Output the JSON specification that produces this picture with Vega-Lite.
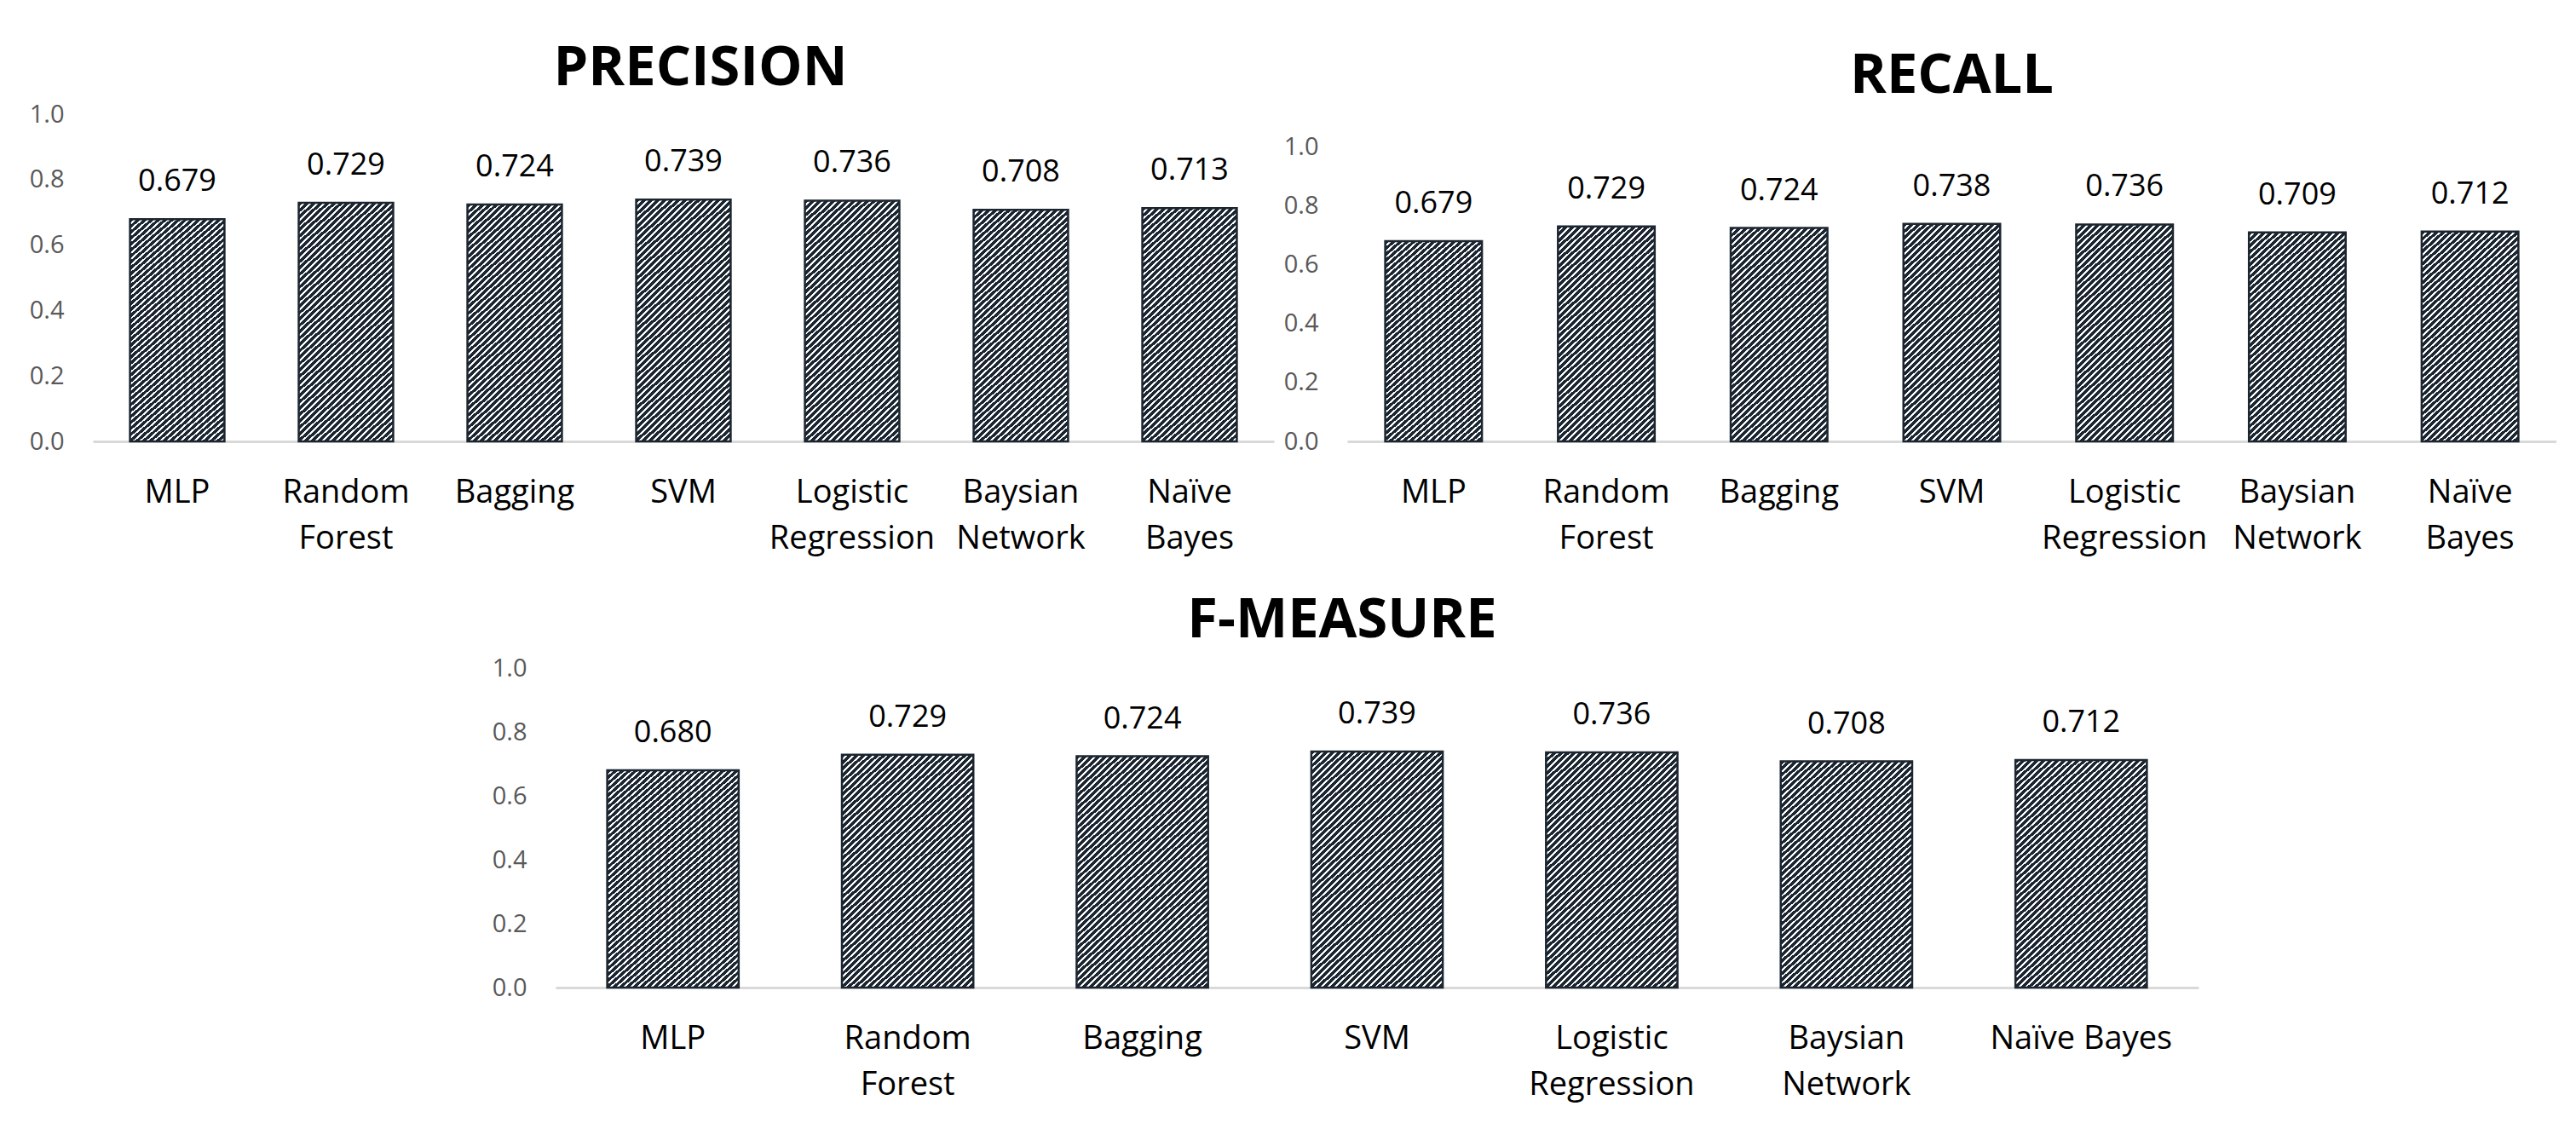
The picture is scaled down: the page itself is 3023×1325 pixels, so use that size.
{
  "$schema": "https://vega.github.io/schema/vega-lite/v6.json",
  "padding": {"left": 34, "top": 48, "right": 0, "bottom": 20},
  "background": "white",
  "datasets": {
    "scores": [
      {"metric": "Precision", "model": "MLP", "value": 0.679},
      {"metric": "Precision", "model": "Random Forest", "value": 0.729},
      {"metric": "Precision", "model": "Bagging", "value": 0.724},
      {"metric": "Precision", "model": "SVM", "value": 0.739},
      {"metric": "Precision", "model": "Logistic Regression", "value": 0.736},
      {"metric": "Precision", "model": "Baysian Network", "value": 0.708},
      {"metric": "Precision", "model": "Naïve Bayes", "value": 0.713},
      {"metric": "Recall", "model": "MLP", "value": 0.679},
      {"metric": "Recall", "model": "Random Forest", "value": 0.729},
      {"metric": "Recall", "model": "Bagging", "value": 0.724},
      {"metric": "Recall", "model": "SVM", "value": 0.738},
      {"metric": "Recall", "model": "Logistic Regression", "value": 0.736},
      {"metric": "Recall", "model": "Baysian Network", "value": 0.709},
      {"metric": "Recall", "model": "Naïve Bayes", "value": 0.712},
      {"metric": "F-Measure", "model": "MLP", "value": 0.680},
      {"metric": "F-Measure", "model": "Random Forest", "value": 0.729},
      {"metric": "F-Measure", "model": "Bagging", "value": 0.724},
      {"metric": "F-Measure", "model": "SVM", "value": 0.739},
      {"metric": "F-Measure", "model": "Logistic Regression", "value": 0.736},
      {"metric": "F-Measure", "model": "Baysian Network", "value": 0.708},
      {"metric": "F-Measure", "model": "Naïve Bayes", "value": 0.712}
    ]
  },
  "config": {
    "font": "Open Sans",
    "view": {"stroke": null},
    "bar": {"stroke": "#1c2630", "strokeWidth": 2.5},
    "axisX": {
      "title": null,
      "domainColor": "#d9d9d9",
      "domainWidth": 3,
      "ticks": false,
      "grid": false,
      "labelAngle": 0,
      "labelFontSize": 38,
      "labelColor": "#000000",
      "labelBaseline": "alphabetic",
      "labelPadding": 71,
      "labelLineHeight": 54,
      "labelLimit": 500
    },
    "axisY": {
      "title": null,
      "domain": false,
      "ticks": false,
      "grid": false,
      "labelFontSize": 29,
      "labelColor": "#595959",
      "labelPadding": 34
    },
    "title": {
      "fontSize": 65,
      "fontWeight": "bold",
      "color": "#000000",
      "anchor": "middle",
      "frame": "group",
      "baseline": "alphabetic"
    }
  },
  "spacing": 45,
  "vconcat": [
    {
      "spacing": 11,
      "hconcat": [
        {
          "width": 1386,
          "height": 384,
          "title": {"text": "PRECISION", "dx": 20, "offset": 6},
          "data": {"name": "scores"},
          "transform": [{"filter": "datum.metric == 'Precision'"}],
          "encoding": {
            "x": {
              "field": "model",
              "type": "nominal",
              "sort": ["MLP", "Random Forest", "Bagging", "SVM", "Logistic Regression", "Baysian Network", "Naïve Bayes"],
              "scale": {"paddingInner": 0.44, "paddingOuter": 0.22},
              "axis": {"labelExpr": "split(datum.label, ' ')"}
            },
            "y": {
              "field": "value",
              "type": "quantitative",
              "scale": {"domain": [0, 1], "nice": false},
              "axis": {"values": [0, 0.2, 0.4, 0.6, 0.8, 1], "format": ".1f"}
            }
          },
          "layer": [
            {
              "mark": {
                "type": "bar",
                "fill": {
                  "gradient": "linear", "x1": 0, "y1": 0, "x2": 0.5275, "y2": 1.408,
                  "stops": [
                    {"offset":0,"color":"#1c2630"},{"offset":0.0107,"color":"#1c2630"},{"offset":0.0107,"color":"#fff"},{"offset":0.0167,"color":"#fff"},
                    {"offset":0.0167,"color":"#1c2630"},{"offset":0.0273,"color":"#1c2630"},{"offset":0.0273,"color":"#fff"},{"offset":0.0333,"color":"#fff"},
                    {"offset":0.0333,"color":"#1c2630"},{"offset":0.0440,"color":"#1c2630"},{"offset":0.0440,"color":"#fff"},{"offset":0.05,"color":"#fff"},
                    {"offset":0.05,"color":"#1c2630"},{"offset":0.0607,"color":"#1c2630"},{"offset":0.0607,"color":"#fff"},{"offset":0.0667,"color":"#fff"},
                    {"offset":0.0667,"color":"#1c2630"},{"offset":0.0773,"color":"#1c2630"},{"offset":0.0773,"color":"#fff"},{"offset":0.0833,"color":"#fff"},
                    {"offset":0.0833,"color":"#1c2630"},{"offset":0.0940,"color":"#1c2630"},{"offset":0.0940,"color":"#fff"},{"offset":0.1,"color":"#fff"},
                    {"offset":0.1,"color":"#1c2630"},{"offset":0.1107,"color":"#1c2630"},{"offset":0.1107,"color":"#fff"},{"offset":0.1167,"color":"#fff"},
                    {"offset":0.1167,"color":"#1c2630"},{"offset":0.1273,"color":"#1c2630"},{"offset":0.1273,"color":"#fff"},{"offset":0.1333,"color":"#fff"},
                    {"offset":0.1333,"color":"#1c2630"},{"offset":0.1440,"color":"#1c2630"},{"offset":0.1440,"color":"#fff"},{"offset":0.15,"color":"#fff"},
                    {"offset":0.15,"color":"#1c2630"},{"offset":0.1607,"color":"#1c2630"},{"offset":0.1607,"color":"#fff"},{"offset":0.1667,"color":"#fff"},
                    {"offset":0.1667,"color":"#1c2630"},{"offset":0.1773,"color":"#1c2630"},{"offset":0.1773,"color":"#fff"},{"offset":0.1833,"color":"#fff"},
                    {"offset":0.1833,"color":"#1c2630"},{"offset":0.1940,"color":"#1c2630"},{"offset":0.1940,"color":"#fff"},{"offset":0.2,"color":"#fff"},
                    {"offset":0.2,"color":"#1c2630"},{"offset":0.2107,"color":"#1c2630"},{"offset":0.2107,"color":"#fff"},{"offset":0.2167,"color":"#fff"},
                    {"offset":0.2167,"color":"#1c2630"},{"offset":0.2273,"color":"#1c2630"},{"offset":0.2273,"color":"#fff"},{"offset":0.2333,"color":"#fff"},
                    {"offset":0.2333,"color":"#1c2630"},{"offset":0.2440,"color":"#1c2630"},{"offset":0.2440,"color":"#fff"},{"offset":0.25,"color":"#fff"},
                    {"offset":0.25,"color":"#1c2630"},{"offset":0.2607,"color":"#1c2630"},{"offset":0.2607,"color":"#fff"},{"offset":0.2667,"color":"#fff"},
                    {"offset":0.2667,"color":"#1c2630"},{"offset":0.2773,"color":"#1c2630"},{"offset":0.2773,"color":"#fff"},{"offset":0.2833,"color":"#fff"},
                    {"offset":0.2833,"color":"#1c2630"},{"offset":0.2940,"color":"#1c2630"},{"offset":0.2940,"color":"#fff"},{"offset":0.3,"color":"#fff"},
                    {"offset":0.3,"color":"#1c2630"},{"offset":0.3107,"color":"#1c2630"},{"offset":0.3107,"color":"#fff"},{"offset":0.3167,"color":"#fff"},
                    {"offset":0.3167,"color":"#1c2630"},{"offset":0.3273,"color":"#1c2630"},{"offset":0.3273,"color":"#fff"},{"offset":0.3333,"color":"#fff"},
                    {"offset":0.3333,"color":"#1c2630"},{"offset":0.3440,"color":"#1c2630"},{"offset":0.3440,"color":"#fff"},{"offset":0.35,"color":"#fff"},
                    {"offset":0.35,"color":"#1c2630"},{"offset":0.3607,"color":"#1c2630"},{"offset":0.3607,"color":"#fff"},{"offset":0.3667,"color":"#fff"},
                    {"offset":0.3667,"color":"#1c2630"},{"offset":0.3773,"color":"#1c2630"},{"offset":0.3773,"color":"#fff"},{"offset":0.3833,"color":"#fff"},
                    {"offset":0.3833,"color":"#1c2630"},{"offset":0.3940,"color":"#1c2630"},{"offset":0.3940,"color":"#fff"},{"offset":0.4,"color":"#fff"},
                    {"offset":0.4,"color":"#1c2630"},{"offset":0.4107,"color":"#1c2630"},{"offset":0.4107,"color":"#fff"},{"offset":0.4167,"color":"#fff"},
                    {"offset":0.4167,"color":"#1c2630"},{"offset":0.4273,"color":"#1c2630"},{"offset":0.4273,"color":"#fff"},{"offset":0.4333,"color":"#fff"},
                    {"offset":0.4333,"color":"#1c2630"},{"offset":0.4440,"color":"#1c2630"},{"offset":0.4440,"color":"#fff"},{"offset":0.45,"color":"#fff"},
                    {"offset":0.45,"color":"#1c2630"},{"offset":0.4607,"color":"#1c2630"},{"offset":0.4607,"color":"#fff"},{"offset":0.4667,"color":"#fff"},
                    {"offset":0.4667,"color":"#1c2630"},{"offset":0.4773,"color":"#1c2630"},{"offset":0.4773,"color":"#fff"},{"offset":0.4833,"color":"#fff"},
                    {"offset":0.4833,"color":"#1c2630"},{"offset":0.4940,"color":"#1c2630"},{"offset":0.4940,"color":"#fff"},{"offset":0.5,"color":"#fff"},
                    {"offset":0.5,"color":"#1c2630"},{"offset":0.5107,"color":"#1c2630"},{"offset":0.5107,"color":"#fff"},{"offset":0.5167,"color":"#fff"},
                    {"offset":0.5167,"color":"#1c2630"},{"offset":0.5273,"color":"#1c2630"},{"offset":0.5273,"color":"#fff"},{"offset":0.5333,"color":"#fff"},
                    {"offset":0.5333,"color":"#1c2630"},{"offset":0.5440,"color":"#1c2630"},{"offset":0.5440,"color":"#fff"},{"offset":0.55,"color":"#fff"},
                    {"offset":0.55,"color":"#1c2630"},{"offset":0.5607,"color":"#1c2630"},{"offset":0.5607,"color":"#fff"},{"offset":0.5667,"color":"#fff"},
                    {"offset":0.5667,"color":"#1c2630"},{"offset":0.5773,"color":"#1c2630"},{"offset":0.5773,"color":"#fff"},{"offset":0.5833,"color":"#fff"},
                    {"offset":0.5833,"color":"#1c2630"},{"offset":0.5940,"color":"#1c2630"},{"offset":0.5940,"color":"#fff"},{"offset":0.6,"color":"#fff"},
                    {"offset":0.6,"color":"#1c2630"},{"offset":0.6107,"color":"#1c2630"},{"offset":0.6107,"color":"#fff"},{"offset":0.6167,"color":"#fff"},
                    {"offset":0.6167,"color":"#1c2630"},{"offset":0.6273,"color":"#1c2630"},{"offset":0.6273,"color":"#fff"},{"offset":0.6333,"color":"#fff"},
                    {"offset":0.6333,"color":"#1c2630"},{"offset":0.6440,"color":"#1c2630"},{"offset":0.6440,"color":"#fff"},{"offset":0.65,"color":"#fff"},
                    {"offset":0.65,"color":"#1c2630"},{"offset":0.6607,"color":"#1c2630"},{"offset":0.6607,"color":"#fff"},{"offset":0.6667,"color":"#fff"},
                    {"offset":0.6667,"color":"#1c2630"},{"offset":0.6773,"color":"#1c2630"},{"offset":0.6773,"color":"#fff"},{"offset":0.6833,"color":"#fff"},
                    {"offset":0.6833,"color":"#1c2630"},{"offset":0.6940,"color":"#1c2630"},{"offset":0.6940,"color":"#fff"},{"offset":0.7,"color":"#fff"},
                    {"offset":0.7,"color":"#1c2630"},{"offset":0.7107,"color":"#1c2630"},{"offset":0.7107,"color":"#fff"},{"offset":0.7167,"color":"#fff"},
                    {"offset":0.7167,"color":"#1c2630"},{"offset":0.7273,"color":"#1c2630"},{"offset":0.7273,"color":"#fff"},{"offset":0.7333,"color":"#fff"},
                    {"offset":0.7333,"color":"#1c2630"},{"offset":0.7440,"color":"#1c2630"},{"offset":0.7440,"color":"#fff"},{"offset":0.75,"color":"#fff"},
                    {"offset":0.75,"color":"#1c2630"},{"offset":0.7607,"color":"#1c2630"},{"offset":0.7607,"color":"#fff"},{"offset":0.7667,"color":"#fff"},
                    {"offset":0.7667,"color":"#1c2630"},{"offset":0.7773,"color":"#1c2630"},{"offset":0.7773,"color":"#fff"},{"offset":0.7833,"color":"#fff"},
                    {"offset":0.7833,"color":"#1c2630"},{"offset":0.7940,"color":"#1c2630"},{"offset":0.7940,"color":"#fff"},{"offset":0.8,"color":"#fff"},
                    {"offset":0.8,"color":"#1c2630"},{"offset":0.8107,"color":"#1c2630"},{"offset":0.8107,"color":"#fff"},{"offset":0.8167,"color":"#fff"},
                    {"offset":0.8167,"color":"#1c2630"},{"offset":0.8273,"color":"#1c2630"},{"offset":0.8273,"color":"#fff"},{"offset":0.8333,"color":"#fff"},
                    {"offset":0.8333,"color":"#1c2630"},{"offset":0.8440,"color":"#1c2630"},{"offset":0.8440,"color":"#fff"},{"offset":0.85,"color":"#fff"},
                    {"offset":0.85,"color":"#1c2630"},{"offset":0.8607,"color":"#1c2630"},{"offset":0.8607,"color":"#fff"},{"offset":0.8667,"color":"#fff"},
                    {"offset":0.8667,"color":"#1c2630"},{"offset":0.8773,"color":"#1c2630"},{"offset":0.8773,"color":"#fff"},{"offset":0.8833,"color":"#fff"},
                    {"offset":0.8833,"color":"#1c2630"},{"offset":0.8940,"color":"#1c2630"},{"offset":0.8940,"color":"#fff"},{"offset":0.9,"color":"#fff"},
                    {"offset":0.9,"color":"#1c2630"},{"offset":0.9107,"color":"#1c2630"},{"offset":0.9107,"color":"#fff"},{"offset":0.9167,"color":"#fff"},
                    {"offset":0.9167,"color":"#1c2630"},{"offset":0.9273,"color":"#1c2630"},{"offset":0.9273,"color":"#fff"},{"offset":0.9333,"color":"#fff"},
                    {"offset":0.9333,"color":"#1c2630"},{"offset":0.9440,"color":"#1c2630"},{"offset":0.9440,"color":"#fff"},{"offset":0.95,"color":"#fff"},
                    {"offset":0.95,"color":"#1c2630"},{"offset":0.9607,"color":"#1c2630"},{"offset":0.9607,"color":"#fff"},{"offset":0.9667,"color":"#fff"},
                    {"offset":0.9667,"color":"#1c2630"},{"offset":0.9773,"color":"#1c2630"},{"offset":0.9773,"color":"#fff"},{"offset":0.9833,"color":"#fff"},
                    {"offset":0.9833,"color":"#1c2630"},{"offset":0.9940,"color":"#1c2630"},{"offset":0.9940,"color":"#fff"},{"offset":1,"color":"#fff"}
                  ]
                }
              }
            },
            {
              "mark": {"type": "text", "fontSize": 36, "baseline": "alphabetic", "dy": -33, "color": "#000000"},
              "encoding": {"text": {"field": "value", "type": "quantitative", "format": ".3f"}}
            }
          ]
        },
        {
          "width": 1419,
          "height": 384,
          "title": {"text": "RECALL", "dx": 0, "offset": 11},
          "data": {"name": "scores"},
          "transform": [{"filter": "datum.metric == 'Recall'"}],
          "encoding": {
            "x": {
              "field": "model",
              "type": "nominal",
              "sort": ["MLP", "Random Forest", "Bagging", "SVM", "Logistic Regression", "Baysian Network", "Naïve Bayes"],
              "scale": {"paddingInner": 0.44, "paddingOuter": 0.22},
              "axis": {"labelExpr": "split(datum.label, ' ')"}
            },
            "y": {
              "field": "value",
              "type": "quantitative",
              "scale": {"domain": [0, 1.11], "nice": false},
              "axis": {"values": [0, 0.2, 0.4, 0.6, 0.8, 1], "format": ".1f"}
            }
          },
          "layer": [
            {
              "mark": {
                "type": "bar",
                "fill": {
                  "gradient": "linear", "x1": 0, "y1": 0, "x2": 0.6435, "y2": 1.5098,
                  "stops": [
                    {"offset":0,"color":"#1c2630"},{"offset":0.0107,"color":"#1c2630"},{"offset":0.0107,"color":"#fff"},{"offset":0.0167,"color":"#fff"},
                    {"offset":0.0167,"color":"#1c2630"},{"offset":0.0273,"color":"#1c2630"},{"offset":0.0273,"color":"#fff"},{"offset":0.0333,"color":"#fff"},
                    {"offset":0.0333,"color":"#1c2630"},{"offset":0.0440,"color":"#1c2630"},{"offset":0.0440,"color":"#fff"},{"offset":0.05,"color":"#fff"},
                    {"offset":0.05,"color":"#1c2630"},{"offset":0.0607,"color":"#1c2630"},{"offset":0.0607,"color":"#fff"},{"offset":0.0667,"color":"#fff"},
                    {"offset":0.0667,"color":"#1c2630"},{"offset":0.0773,"color":"#1c2630"},{"offset":0.0773,"color":"#fff"},{"offset":0.0833,"color":"#fff"},
                    {"offset":0.0833,"color":"#1c2630"},{"offset":0.0940,"color":"#1c2630"},{"offset":0.0940,"color":"#fff"},{"offset":0.1,"color":"#fff"},
                    {"offset":0.1,"color":"#1c2630"},{"offset":0.1107,"color":"#1c2630"},{"offset":0.1107,"color":"#fff"},{"offset":0.1167,"color":"#fff"},
                    {"offset":0.1167,"color":"#1c2630"},{"offset":0.1273,"color":"#1c2630"},{"offset":0.1273,"color":"#fff"},{"offset":0.1333,"color":"#fff"},
                    {"offset":0.1333,"color":"#1c2630"},{"offset":0.1440,"color":"#1c2630"},{"offset":0.1440,"color":"#fff"},{"offset":0.15,"color":"#fff"},
                    {"offset":0.15,"color":"#1c2630"},{"offset":0.1607,"color":"#1c2630"},{"offset":0.1607,"color":"#fff"},{"offset":0.1667,"color":"#fff"},
                    {"offset":0.1667,"color":"#1c2630"},{"offset":0.1773,"color":"#1c2630"},{"offset":0.1773,"color":"#fff"},{"offset":0.1833,"color":"#fff"},
                    {"offset":0.1833,"color":"#1c2630"},{"offset":0.1940,"color":"#1c2630"},{"offset":0.1940,"color":"#fff"},{"offset":0.2,"color":"#fff"},
                    {"offset":0.2,"color":"#1c2630"},{"offset":0.2107,"color":"#1c2630"},{"offset":0.2107,"color":"#fff"},{"offset":0.2167,"color":"#fff"},
                    {"offset":0.2167,"color":"#1c2630"},{"offset":0.2273,"color":"#1c2630"},{"offset":0.2273,"color":"#fff"},{"offset":0.2333,"color":"#fff"},
                    {"offset":0.2333,"color":"#1c2630"},{"offset":0.2440,"color":"#1c2630"},{"offset":0.2440,"color":"#fff"},{"offset":0.25,"color":"#fff"},
                    {"offset":0.25,"color":"#1c2630"},{"offset":0.2607,"color":"#1c2630"},{"offset":0.2607,"color":"#fff"},{"offset":0.2667,"color":"#fff"},
                    {"offset":0.2667,"color":"#1c2630"},{"offset":0.2773,"color":"#1c2630"},{"offset":0.2773,"color":"#fff"},{"offset":0.2833,"color":"#fff"},
                    {"offset":0.2833,"color":"#1c2630"},{"offset":0.2940,"color":"#1c2630"},{"offset":0.2940,"color":"#fff"},{"offset":0.3,"color":"#fff"},
                    {"offset":0.3,"color":"#1c2630"},{"offset":0.3107,"color":"#1c2630"},{"offset":0.3107,"color":"#fff"},{"offset":0.3167,"color":"#fff"},
                    {"offset":0.3167,"color":"#1c2630"},{"offset":0.3273,"color":"#1c2630"},{"offset":0.3273,"color":"#fff"},{"offset":0.3333,"color":"#fff"},
                    {"offset":0.3333,"color":"#1c2630"},{"offset":0.3440,"color":"#1c2630"},{"offset":0.3440,"color":"#fff"},{"offset":0.35,"color":"#fff"},
                    {"offset":0.35,"color":"#1c2630"},{"offset":0.3607,"color":"#1c2630"},{"offset":0.3607,"color":"#fff"},{"offset":0.3667,"color":"#fff"},
                    {"offset":0.3667,"color":"#1c2630"},{"offset":0.3773,"color":"#1c2630"},{"offset":0.3773,"color":"#fff"},{"offset":0.3833,"color":"#fff"},
                    {"offset":0.3833,"color":"#1c2630"},{"offset":0.3940,"color":"#1c2630"},{"offset":0.3940,"color":"#fff"},{"offset":0.4,"color":"#fff"},
                    {"offset":0.4,"color":"#1c2630"},{"offset":0.4107,"color":"#1c2630"},{"offset":0.4107,"color":"#fff"},{"offset":0.4167,"color":"#fff"},
                    {"offset":0.4167,"color":"#1c2630"},{"offset":0.4273,"color":"#1c2630"},{"offset":0.4273,"color":"#fff"},{"offset":0.4333,"color":"#fff"},
                    {"offset":0.4333,"color":"#1c2630"},{"offset":0.4440,"color":"#1c2630"},{"offset":0.4440,"color":"#fff"},{"offset":0.45,"color":"#fff"},
                    {"offset":0.45,"color":"#1c2630"},{"offset":0.4607,"color":"#1c2630"},{"offset":0.4607,"color":"#fff"},{"offset":0.4667,"color":"#fff"},
                    {"offset":0.4667,"color":"#1c2630"},{"offset":0.4773,"color":"#1c2630"},{"offset":0.4773,"color":"#fff"},{"offset":0.4833,"color":"#fff"},
                    {"offset":0.4833,"color":"#1c2630"},{"offset":0.4940,"color":"#1c2630"},{"offset":0.4940,"color":"#fff"},{"offset":0.5,"color":"#fff"},
                    {"offset":0.5,"color":"#1c2630"},{"offset":0.5107,"color":"#1c2630"},{"offset":0.5107,"color":"#fff"},{"offset":0.5167,"color":"#fff"},
                    {"offset":0.5167,"color":"#1c2630"},{"offset":0.5273,"color":"#1c2630"},{"offset":0.5273,"color":"#fff"},{"offset":0.5333,"color":"#fff"},
                    {"offset":0.5333,"color":"#1c2630"},{"offset":0.5440,"color":"#1c2630"},{"offset":0.5440,"color":"#fff"},{"offset":0.55,"color":"#fff"},
                    {"offset":0.55,"color":"#1c2630"},{"offset":0.5607,"color":"#1c2630"},{"offset":0.5607,"color":"#fff"},{"offset":0.5667,"color":"#fff"},
                    {"offset":0.5667,"color":"#1c2630"},{"offset":0.5773,"color":"#1c2630"},{"offset":0.5773,"color":"#fff"},{"offset":0.5833,"color":"#fff"},
                    {"offset":0.5833,"color":"#1c2630"},{"offset":0.5940,"color":"#1c2630"},{"offset":0.5940,"color":"#fff"},{"offset":0.6,"color":"#fff"},
                    {"offset":0.6,"color":"#1c2630"},{"offset":0.6107,"color":"#1c2630"},{"offset":0.6107,"color":"#fff"},{"offset":0.6167,"color":"#fff"},
                    {"offset":0.6167,"color":"#1c2630"},{"offset":0.6273,"color":"#1c2630"},{"offset":0.6273,"color":"#fff"},{"offset":0.6333,"color":"#fff"},
                    {"offset":0.6333,"color":"#1c2630"},{"offset":0.6440,"color":"#1c2630"},{"offset":0.6440,"color":"#fff"},{"offset":0.65,"color":"#fff"},
                    {"offset":0.65,"color":"#1c2630"},{"offset":0.6607,"color":"#1c2630"},{"offset":0.6607,"color":"#fff"},{"offset":0.6667,"color":"#fff"},
                    {"offset":0.6667,"color":"#1c2630"},{"offset":0.6773,"color":"#1c2630"},{"offset":0.6773,"color":"#fff"},{"offset":0.6833,"color":"#fff"},
                    {"offset":0.6833,"color":"#1c2630"},{"offset":0.6940,"color":"#1c2630"},{"offset":0.6940,"color":"#fff"},{"offset":0.7,"color":"#fff"},
                    {"offset":0.7,"color":"#1c2630"},{"offset":0.7107,"color":"#1c2630"},{"offset":0.7107,"color":"#fff"},{"offset":0.7167,"color":"#fff"},
                    {"offset":0.7167,"color":"#1c2630"},{"offset":0.7273,"color":"#1c2630"},{"offset":0.7273,"color":"#fff"},{"offset":0.7333,"color":"#fff"},
                    {"offset":0.7333,"color":"#1c2630"},{"offset":0.7440,"color":"#1c2630"},{"offset":0.7440,"color":"#fff"},{"offset":0.75,"color":"#fff"},
                    {"offset":0.75,"color":"#1c2630"},{"offset":0.7607,"color":"#1c2630"},{"offset":0.7607,"color":"#fff"},{"offset":0.7667,"color":"#fff"},
                    {"offset":0.7667,"color":"#1c2630"},{"offset":0.7773,"color":"#1c2630"},{"offset":0.7773,"color":"#fff"},{"offset":0.7833,"color":"#fff"},
                    {"offset":0.7833,"color":"#1c2630"},{"offset":0.7940,"color":"#1c2630"},{"offset":0.7940,"color":"#fff"},{"offset":0.8,"color":"#fff"},
                    {"offset":0.8,"color":"#1c2630"},{"offset":0.8107,"color":"#1c2630"},{"offset":0.8107,"color":"#fff"},{"offset":0.8167,"color":"#fff"},
                    {"offset":0.8167,"color":"#1c2630"},{"offset":0.8273,"color":"#1c2630"},{"offset":0.8273,"color":"#fff"},{"offset":0.8333,"color":"#fff"},
                    {"offset":0.8333,"color":"#1c2630"},{"offset":0.8440,"color":"#1c2630"},{"offset":0.8440,"color":"#fff"},{"offset":0.85,"color":"#fff"},
                    {"offset":0.85,"color":"#1c2630"},{"offset":0.8607,"color":"#1c2630"},{"offset":0.8607,"color":"#fff"},{"offset":0.8667,"color":"#fff"},
                    {"offset":0.8667,"color":"#1c2630"},{"offset":0.8773,"color":"#1c2630"},{"offset":0.8773,"color":"#fff"},{"offset":0.8833,"color":"#fff"},
                    {"offset":0.8833,"color":"#1c2630"},{"offset":0.8940,"color":"#1c2630"},{"offset":0.8940,"color":"#fff"},{"offset":0.9,"color":"#fff"},
                    {"offset":0.9,"color":"#1c2630"},{"offset":0.9107,"color":"#1c2630"},{"offset":0.9107,"color":"#fff"},{"offset":0.9167,"color":"#fff"},
                    {"offset":0.9167,"color":"#1c2630"},{"offset":0.9273,"color":"#1c2630"},{"offset":0.9273,"color":"#fff"},{"offset":0.9333,"color":"#fff"},
                    {"offset":0.9333,"color":"#1c2630"},{"offset":0.9440,"color":"#1c2630"},{"offset":0.9440,"color":"#fff"},{"offset":0.95,"color":"#fff"},
                    {"offset":0.95,"color":"#1c2630"},{"offset":0.9607,"color":"#1c2630"},{"offset":0.9607,"color":"#fff"},{"offset":0.9667,"color":"#fff"},
                    {"offset":0.9667,"color":"#1c2630"},{"offset":0.9773,"color":"#1c2630"},{"offset":0.9773,"color":"#fff"},{"offset":0.9833,"color":"#fff"},
                    {"offset":0.9833,"color":"#1c2630"},{"offset":0.9940,"color":"#1c2630"},{"offset":0.9940,"color":"#fff"},{"offset":1,"color":"#fff"}
                  ]
                }
              }
            },
            {
              "mark": {"type": "text", "fontSize": 36, "baseline": "alphabetic", "dy": -33, "color": "#000000"},
              "encoding": {"text": {"field": "value", "type": "quantitative", "format": ".3f"}}
            }
          ]
        }
      ]
    },
    {
      "spacing": 0,
      "hconcat": [
        {
          "width": 468,
          "height": 375,
          "data": {"values": []},
          "mark": "point"
        },
        {
          "width": 1928,
          "height": 375,
          "title": {"text": "F-MEASURE", "dx": -41, "offset": 8},
          "data": {"name": "scores"},
          "transform": [{"filter": "datum.metric == 'F-Measure'"}],
          "encoding": {
            "x": {
              "field": "model",
              "type": "nominal",
              "sort": ["MLP", "Random Forest", "Bagging", "SVM", "Logistic Regression", "Baysian Network", "Naïve Bayes"],
              "scale": {"paddingInner": 0.44, "paddingOuter": 0.22},
              "axis": {"labelExpr": "datum.label == 'Naïve Bayes' ? 'Naïve  Bayes' : split(datum.label, ' ')"}
            },
            "y": {
              "field": "value",
              "type": "quantitative",
              "scale": {"domain": [0, 1], "nice": false},
              "axis": {"values": [0, 0.2, 0.4, 0.6, 0.8, 1], "format": ".1f"}
            }
          },
          "layer": [
            {
              "mark": {
                "type": "bar",
                "fill": {
                  "gradient": "linear", "x1": 0, "y1": 0, "x2": 0.6856, "y2": 1.2812,
                  "stops": [
                    {"offset":0,"color":"#1c2630"},{"offset":0.0107,"color":"#1c2630"},{"offset":0.0107,"color":"#fff"},{"offset":0.0167,"color":"#fff"},
                    {"offset":0.0167,"color":"#1c2630"},{"offset":0.0273,"color":"#1c2630"},{"offset":0.0273,"color":"#fff"},{"offset":0.0333,"color":"#fff"},
                    {"offset":0.0333,"color":"#1c2630"},{"offset":0.0440,"color":"#1c2630"},{"offset":0.0440,"color":"#fff"},{"offset":0.05,"color":"#fff"},
                    {"offset":0.05,"color":"#1c2630"},{"offset":0.0607,"color":"#1c2630"},{"offset":0.0607,"color":"#fff"},{"offset":0.0667,"color":"#fff"},
                    {"offset":0.0667,"color":"#1c2630"},{"offset":0.0773,"color":"#1c2630"},{"offset":0.0773,"color":"#fff"},{"offset":0.0833,"color":"#fff"},
                    {"offset":0.0833,"color":"#1c2630"},{"offset":0.0940,"color":"#1c2630"},{"offset":0.0940,"color":"#fff"},{"offset":0.1,"color":"#fff"},
                    {"offset":0.1,"color":"#1c2630"},{"offset":0.1107,"color":"#1c2630"},{"offset":0.1107,"color":"#fff"},{"offset":0.1167,"color":"#fff"},
                    {"offset":0.1167,"color":"#1c2630"},{"offset":0.1273,"color":"#1c2630"},{"offset":0.1273,"color":"#fff"},{"offset":0.1333,"color":"#fff"},
                    {"offset":0.1333,"color":"#1c2630"},{"offset":0.1440,"color":"#1c2630"},{"offset":0.1440,"color":"#fff"},{"offset":0.15,"color":"#fff"},
                    {"offset":0.15,"color":"#1c2630"},{"offset":0.1607,"color":"#1c2630"},{"offset":0.1607,"color":"#fff"},{"offset":0.1667,"color":"#fff"},
                    {"offset":0.1667,"color":"#1c2630"},{"offset":0.1773,"color":"#1c2630"},{"offset":0.1773,"color":"#fff"},{"offset":0.1833,"color":"#fff"},
                    {"offset":0.1833,"color":"#1c2630"},{"offset":0.1940,"color":"#1c2630"},{"offset":0.1940,"color":"#fff"},{"offset":0.2,"color":"#fff"},
                    {"offset":0.2,"color":"#1c2630"},{"offset":0.2107,"color":"#1c2630"},{"offset":0.2107,"color":"#fff"},{"offset":0.2167,"color":"#fff"},
                    {"offset":0.2167,"color":"#1c2630"},{"offset":0.2273,"color":"#1c2630"},{"offset":0.2273,"color":"#fff"},{"offset":0.2333,"color":"#fff"},
                    {"offset":0.2333,"color":"#1c2630"},{"offset":0.2440,"color":"#1c2630"},{"offset":0.2440,"color":"#fff"},{"offset":0.25,"color":"#fff"},
                    {"offset":0.25,"color":"#1c2630"},{"offset":0.2607,"color":"#1c2630"},{"offset":0.2607,"color":"#fff"},{"offset":0.2667,"color":"#fff"},
                    {"offset":0.2667,"color":"#1c2630"},{"offset":0.2773,"color":"#1c2630"},{"offset":0.2773,"color":"#fff"},{"offset":0.2833,"color":"#fff"},
                    {"offset":0.2833,"color":"#1c2630"},{"offset":0.2940,"color":"#1c2630"},{"offset":0.2940,"color":"#fff"},{"offset":0.3,"color":"#fff"},
                    {"offset":0.3,"color":"#1c2630"},{"offset":0.3107,"color":"#1c2630"},{"offset":0.3107,"color":"#fff"},{"offset":0.3167,"color":"#fff"},
                    {"offset":0.3167,"color":"#1c2630"},{"offset":0.3273,"color":"#1c2630"},{"offset":0.3273,"color":"#fff"},{"offset":0.3333,"color":"#fff"},
                    {"offset":0.3333,"color":"#1c2630"},{"offset":0.3440,"color":"#1c2630"},{"offset":0.3440,"color":"#fff"},{"offset":0.35,"color":"#fff"},
                    {"offset":0.35,"color":"#1c2630"},{"offset":0.3607,"color":"#1c2630"},{"offset":0.3607,"color":"#fff"},{"offset":0.3667,"color":"#fff"},
                    {"offset":0.3667,"color":"#1c2630"},{"offset":0.3773,"color":"#1c2630"},{"offset":0.3773,"color":"#fff"},{"offset":0.3833,"color":"#fff"},
                    {"offset":0.3833,"color":"#1c2630"},{"offset":0.3940,"color":"#1c2630"},{"offset":0.3940,"color":"#fff"},{"offset":0.4,"color":"#fff"},
                    {"offset":0.4,"color":"#1c2630"},{"offset":0.4107,"color":"#1c2630"},{"offset":0.4107,"color":"#fff"},{"offset":0.4167,"color":"#fff"},
                    {"offset":0.4167,"color":"#1c2630"},{"offset":0.4273,"color":"#1c2630"},{"offset":0.4273,"color":"#fff"},{"offset":0.4333,"color":"#fff"},
                    {"offset":0.4333,"color":"#1c2630"},{"offset":0.4440,"color":"#1c2630"},{"offset":0.4440,"color":"#fff"},{"offset":0.45,"color":"#fff"},
                    {"offset":0.45,"color":"#1c2630"},{"offset":0.4607,"color":"#1c2630"},{"offset":0.4607,"color":"#fff"},{"offset":0.4667,"color":"#fff"},
                    {"offset":0.4667,"color":"#1c2630"},{"offset":0.4773,"color":"#1c2630"},{"offset":0.4773,"color":"#fff"},{"offset":0.4833,"color":"#fff"},
                    {"offset":0.4833,"color":"#1c2630"},{"offset":0.4940,"color":"#1c2630"},{"offset":0.4940,"color":"#fff"},{"offset":0.5,"color":"#fff"},
                    {"offset":0.5,"color":"#1c2630"},{"offset":0.5107,"color":"#1c2630"},{"offset":0.5107,"color":"#fff"},{"offset":0.5167,"color":"#fff"},
                    {"offset":0.5167,"color":"#1c2630"},{"offset":0.5273,"color":"#1c2630"},{"offset":0.5273,"color":"#fff"},{"offset":0.5333,"color":"#fff"},
                    {"offset":0.5333,"color":"#1c2630"},{"offset":0.5440,"color":"#1c2630"},{"offset":0.5440,"color":"#fff"},{"offset":0.55,"color":"#fff"},
                    {"offset":0.55,"color":"#1c2630"},{"offset":0.5607,"color":"#1c2630"},{"offset":0.5607,"color":"#fff"},{"offset":0.5667,"color":"#fff"},
                    {"offset":0.5667,"color":"#1c2630"},{"offset":0.5773,"color":"#1c2630"},{"offset":0.5773,"color":"#fff"},{"offset":0.5833,"color":"#fff"},
                    {"offset":0.5833,"color":"#1c2630"},{"offset":0.5940,"color":"#1c2630"},{"offset":0.5940,"color":"#fff"},{"offset":0.6,"color":"#fff"},
                    {"offset":0.6,"color":"#1c2630"},{"offset":0.6107,"color":"#1c2630"},{"offset":0.6107,"color":"#fff"},{"offset":0.6167,"color":"#fff"},
                    {"offset":0.6167,"color":"#1c2630"},{"offset":0.6273,"color":"#1c2630"},{"offset":0.6273,"color":"#fff"},{"offset":0.6333,"color":"#fff"},
                    {"offset":0.6333,"color":"#1c2630"},{"offset":0.6440,"color":"#1c2630"},{"offset":0.6440,"color":"#fff"},{"offset":0.65,"color":"#fff"},
                    {"offset":0.65,"color":"#1c2630"},{"offset":0.6607,"color":"#1c2630"},{"offset":0.6607,"color":"#fff"},{"offset":0.6667,"color":"#fff"},
                    {"offset":0.6667,"color":"#1c2630"},{"offset":0.6773,"color":"#1c2630"},{"offset":0.6773,"color":"#fff"},{"offset":0.6833,"color":"#fff"},
                    {"offset":0.6833,"color":"#1c2630"},{"offset":0.6940,"color":"#1c2630"},{"offset":0.6940,"color":"#fff"},{"offset":0.7,"color":"#fff"},
                    {"offset":0.7,"color":"#1c2630"},{"offset":0.7107,"color":"#1c2630"},{"offset":0.7107,"color":"#fff"},{"offset":0.7167,"color":"#fff"},
                    {"offset":0.7167,"color":"#1c2630"},{"offset":0.7273,"color":"#1c2630"},{"offset":0.7273,"color":"#fff"},{"offset":0.7333,"color":"#fff"},
                    {"offset":0.7333,"color":"#1c2630"},{"offset":0.7440,"color":"#1c2630"},{"offset":0.7440,"color":"#fff"},{"offset":0.75,"color":"#fff"},
                    {"offset":0.75,"color":"#1c2630"},{"offset":0.7607,"color":"#1c2630"},{"offset":0.7607,"color":"#fff"},{"offset":0.7667,"color":"#fff"},
                    {"offset":0.7667,"color":"#1c2630"},{"offset":0.7773,"color":"#1c2630"},{"offset":0.7773,"color":"#fff"},{"offset":0.7833,"color":"#fff"},
                    {"offset":0.7833,"color":"#1c2630"},{"offset":0.7940,"color":"#1c2630"},{"offset":0.7940,"color":"#fff"},{"offset":0.8,"color":"#fff"},
                    {"offset":0.8,"color":"#1c2630"},{"offset":0.8107,"color":"#1c2630"},{"offset":0.8107,"color":"#fff"},{"offset":0.8167,"color":"#fff"},
                    {"offset":0.8167,"color":"#1c2630"},{"offset":0.8273,"color":"#1c2630"},{"offset":0.8273,"color":"#fff"},{"offset":0.8333,"color":"#fff"},
                    {"offset":0.8333,"color":"#1c2630"},{"offset":0.8440,"color":"#1c2630"},{"offset":0.8440,"color":"#fff"},{"offset":0.85,"color":"#fff"},
                    {"offset":0.85,"color":"#1c2630"},{"offset":0.8607,"color":"#1c2630"},{"offset":0.8607,"color":"#fff"},{"offset":0.8667,"color":"#fff"},
                    {"offset":0.8667,"color":"#1c2630"},{"offset":0.8773,"color":"#1c2630"},{"offset":0.8773,"color":"#fff"},{"offset":0.8833,"color":"#fff"},
                    {"offset":0.8833,"color":"#1c2630"},{"offset":0.8940,"color":"#1c2630"},{"offset":0.8940,"color":"#fff"},{"offset":0.9,"color":"#fff"},
                    {"offset":0.9,"color":"#1c2630"},{"offset":0.9107,"color":"#1c2630"},{"offset":0.9107,"color":"#fff"},{"offset":0.9167,"color":"#fff"},
                    {"offset":0.9167,"color":"#1c2630"},{"offset":0.9273,"color":"#1c2630"},{"offset":0.9273,"color":"#fff"},{"offset":0.9333,"color":"#fff"},
                    {"offset":0.9333,"color":"#1c2630"},{"offset":0.9440,"color":"#1c2630"},{"offset":0.9440,"color":"#fff"},{"offset":0.95,"color":"#fff"},
                    {"offset":0.95,"color":"#1c2630"},{"offset":0.9607,"color":"#1c2630"},{"offset":0.9607,"color":"#fff"},{"offset":0.9667,"color":"#fff"},
                    {"offset":0.9667,"color":"#1c2630"},{"offset":0.9773,"color":"#1c2630"},{"offset":0.9773,"color":"#fff"},{"offset":0.9833,"color":"#fff"},
                    {"offset":0.9833,"color":"#1c2630"},{"offset":0.9940,"color":"#1c2630"},{"offset":0.9940,"color":"#fff"},{"offset":1,"color":"#fff"}
                  ]
                }
              }
            },
            {
              "mark": {"type": "text", "fontSize": 36, "baseline": "alphabetic", "dy": -33, "color": "#000000"},
              "encoding": {"text": {"field": "value", "type": "quantitative", "format": ".3f"}}
            }
          ]
        }
      ]
    }
  ]
}
